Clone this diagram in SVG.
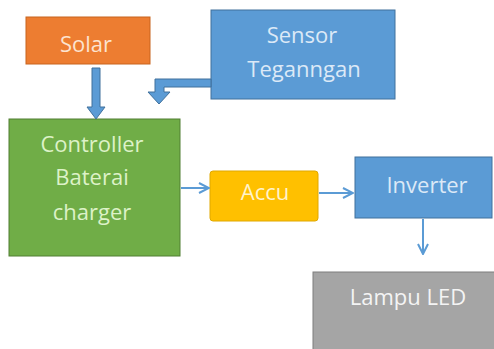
<svg xmlns="http://www.w3.org/2000/svg" width="494" height="349" viewBox="0 0 494 349">
<defs>
<style>
.t{font-family:"Open Sans","Liberation Sans",sans-serif;font-size:22px;text-anchor:middle;}
.thin{stroke:#5B9BD5;stroke-width:2;fill:none;}
</style>
<marker id="open" viewBox="0 0 12 12" refX="11" refY="6" markerWidth="12" markerHeight="12" markerUnits="userSpaceOnUse" orient="auto">
<path d="M1,1 L11,6 L1,11" fill="none" stroke="#5B9BD5" stroke-width="2"/>
</marker>
</defs>
<rect width="494" height="349" fill="#ffffff"/>
<g id="solar">
<rect x="26" y="17" width="124" height="47" fill="#ED7D31" stroke="#C8641F" stroke-width="1"/>
<text class="t" x="86" y="52" fill="#FCE3CF">Solar</text>
</g>
<g id="sensor">
<rect x="211" y="10" width="184" height="89" fill="#5B9BD5" stroke="#41719C" stroke-width="1"/>
<text class="t" x="302" y="43" fill="#DCE9F7">Sensor</text>
<text class="t" x="304" y="77" fill="#DCE9F7">Teganngan</text>
</g>
<g id="controller">
<rect x="9" y="119" width="171" height="137" fill="#70AD47" stroke="#507E32" stroke-width="1"/>
<text class="t" x="92" y="152" fill="#DDF2C8">Controller</text>
<text class="t" x="92" y="185" fill="#DDF2C8">Baterai</text>
<text class="t" x="92" y="220" fill="#DDF2C8">charger</text>
</g>
<g id="accu">
<rect x="210" y="171" width="108" height="50" rx="3" fill="#FFC000" stroke="#E0A800" stroke-width="1"/>
<text class="t" x="265" y="200" fill="#FFF3CC">Accu</text>
</g>
<g id="inverter">
<rect x="355" y="157" width="137" height="61" fill="#5B9BD5" stroke="#41719C" stroke-width="1"/>
<text class="t" x="427" y="193" fill="#DCE9F7">Inverter</text>
</g>
<g id="lampu">
<rect x="313" y="272" width="185" height="80" fill="#A5A5A5" stroke="#7F7F7F" stroke-width="1"/>
<text class="t" x="408" y="305" fill="#F4F4F4">Lampu LED</text>
</g>
<g id="connectors">
<path d="M92,68 L100,68 L100,107 L105,107 L96,119 L87,107 L92,107 Z" fill="#5B9BD5" stroke="#41719C" stroke-width="1"/>
<path d="M211,79 L211,87 L164,87 L164,92 L170,92 L159,104 L148,92 L155,92 L155,79 Z" fill="#5B9BD5" stroke="#41719C" stroke-width="1"/>
<line class="thin" x1="181" y1="188" x2="209" y2="188" marker-end="url(#open)"/>
<line class="thin" x1="319" y1="193" x2="353" y2="193" marker-end="url(#open)"/>
<line class="thin" x1="423" y1="219" x2="423" y2="254" marker-end="url(#open)"/>
</g>
</svg>
